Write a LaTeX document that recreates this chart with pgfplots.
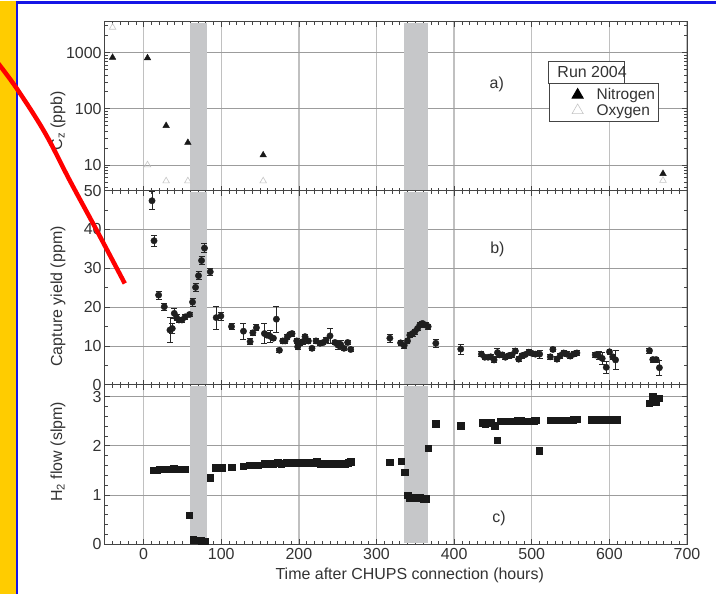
\documentclass[border=0pt]{standalone}
\usepackage{pgfplots}
\pgfplotsset{compat=1.18}
\usepackage{fontspec}
\setmainfont{Liberation Sans}
\definecolor{txt}{HTML}{333333}
\definecolor{bandc}{HTML}{C6C7C9}
\definecolor{gridv}{HTML}{C0C0C0}
\definecolor{gridh}{HTML}{9C9C9C}
\definecolor{framec}{HTML}{444444}
\definecolor{yel}{HTML}{FFCC00}
\definecolor{slideblue}{HTML}{1515E6}
\pgfplotsset{
 common/.style={
   scale only axis, width=583.3pt,
   xmin=-50, xmax=700,
   xtick={0,100,...,700},
   minor xtick={-40,-30,...,690},
   xmajorgrids, ymajorgrids,
   x grid style={gridv, line width=1.4pt},
   y grid style={gridh, line width=0.8pt},
   axis line style={framec, line width=1.1pt},
   tick style={framec, line width=0.7pt},
   major tick length=5pt, minor tick length=3pt,
   xtick pos=both, ytick pos=both,
   tick label style={font=\fontsize{16}{16}\selectfont, text=txt},
   /pgf/number format/assume math mode=true,
   yticklabel style={inner sep=1pt, xshift=-2pt},
   xticklabel style={inner sep=1pt, yshift=-3pt},
   label style={font=\fontsize{16}{18}\selectfont, text=txt},
 },
 band/.style={fill=bandc, draw=none, forget plot},
}
\begin{document}
\begin{tikzpicture}
\begin{scope}[x=1pt,y=1pt]
\path[fill=white] (0,0) rectangle (717,594);
\fill[yel] (0,0) rectangle (16,594);
\draw[slideblue, line width=2pt] (17,0) -- (17,594);
\draw[slideblue, line width=2.6pt] (16,592.7) -- (717,592.7);
\end{scope}

% ---------------- panel a ----------------
\begin{axis}[common, at={(105pt,404pt)}, anchor=south west, height=169pt,
  ymode=log, ymin=3.5, ymax=3500,
  ytick={10,100,1000}, yticklabels={10,100,1000},
  minor ytick={4,5,6,7,8,9,20,30,40,50,60,70,80,90,200,300,400,500,600,700,800,900,2000,3000},
  xticklabels=\empty,
  ylabel={C\textsubscript{z} (ppb)},
  ylabel style={at={(axis description cs:-0.0806,0.414)}, anchor=center},
  legend cell align=left,
  legend image code/.code={\path[draw=none, fill=none] (0pt,-3pt) rectangle (44pt,3pt); \draw[#1] plot coordinates {(26pt,0pt)};},
  legend style={at={(axis description cs:0.7634,0.637)}, anchor=north west,
     draw=framec, line width=0.8pt, font=\fontsize{15.5}{17}\selectfont, text=txt,
     inner xsep=2pt, inner ysep=4pt, row sep=1pt,
     nodes={inner sep=1pt}},
]
\addplot[band] coordinates {(60,3.6) (81,3.6) (81,3400) (60,3400)} -- cycle;
\addplot[band] coordinates {(335,3.6) (366,3.6) (366,3400) (335,3400)} -- cycle;
\addlegendimage{only marks, mark=triangle*, mark size=6.5pt, black}
\addlegendentry{Nitrogen}
\addlegendimage{only marks, mark=triangle, mark size=6.5pt, gray!45, mark options={line width=0.6pt}}
\addlegendentry{Oxygen}
\addplot[only marks, mark=triangle*, mark size=3.8pt, black!90, forget plot] coordinates {
 (-40,815) (5,800) (29,50) (57,25) (154,15) (669,7)};
\addplot[only marks, mark=triangle, mark size=3.8pt, gray!45, mark options={line width=0.6pt}, forget plot] coordinates {
 (-40,2800) (5,10) (29,5.2) (57,5.2) (154,5.2) (669,5.3)};
\draw[framec, line width=0.8pt, fill=white] (axis description cs:0.7617,0.636) rectangle (axis description cs:0.8927,0.765);
\node[anchor=base west, inner sep=0pt, text=txt, font=\fontsize{16}{18}\selectfont] at (axis description cs:0.7771,0.668) {Run 2004};
\node[text=txt, font=\fontsize{16}{18}\selectfont] at (axis description cs:0.6733,0.631) {a)};
\end{axis}

% ---------------- panel b ----------------
\begin{axis}[common, at={(105pt,209.5pt)}, anchor=south west, height=194.5pt,
  ymin=0, ymax=50, ytick={0,10,...,50}, minor y tick num=1,
  xticklabels=\empty,
  ylabel={Capture yield (ppm)},
  ylabel style={at={(axis description cs:-0.0806,0.455)}, anchor=center},
]
\addplot[band] coordinates {(60,0.3) (81,0.3) (81,49.7) (60,49.7)} -- cycle;
\addplot[band] coordinates {(335,0.3) (366,0.3) (366,49.7) (335,49.7)} -- cycle;
\addplot[only marks, mark=*, mark size=3.2pt, black!88,
  error bars/.cd, y dir=both, y explicit,
  error bar style={black!85, line width=0.7pt},
  error mark options={rotate=90, mark size=3pt, line width=0.7pt, black!85}]
 table[x=x, y=y, y error=e] {
x y e
10.8 47.4 2.3
13.4 37.1 1.5
19.3 23.1 1.0
26.6 20.1 1.0
33.9 14.1 3.2
36.9 14.5 1.2
39.5 18.4 1.2
42.4 17.3 0.8
45.5 16.7 0.6
49.4 16.7 0.6
53.6 17.5 0.6
59.1 18.1 0.6
63.0 21.3 1.0
66.9 25.1 1.0
70.7 28.1 1.0
74.6 32.0 1.0
78.4 35.2 1.2
85.8 29.1 1.0
93.5 17.3 3.0
99.5 17.7 1.0
113.2 15.0 0.8
128.6 13.8 2.0
137.2 11.1 0.8
140.7 13.4 0.6
145.3 14.7 0.8
155.6 13.2 2.5
158.7 12.8 0.6
162.9 12.5 1.5
167.2 12.0 0.6
171.0 16.9 3.3
174.9 8.9 0.6
179.2 11.3 0.6
182.2 11.3 0.6
185.2 12.4 0.6
188.6 13.0 0.6
191.2 13.2 0.6
197.2 11.3 0.6
198.5 9.8 0.6
201.5 10.7 0.6
205.0 11.1 0.6
207.9 12.4 0.6
212.2 11.3 0.6
216.9 9.4 0.6
222.1 11.3 0.6
227.2 10.7 0.6
231.5 10.9 0.6
234.9 11.5 0.6
240.1 12.6 2.0
246.5 10.9 0.6
250.4 10.2 1.0
253.8 10.4 1.0
258.1 9.4 0.6
262.8 10.9 0.6
266.7 9.1 0.6
317.2 12.0 1.0
331.0 10.8 0.6
335.6 10.1 0.6
339.9 11.3 0.6
342.9 12.8 0.6
346.4 13.2 0.6
349.4 13.7 0.6
352.8 14.5 0.6
355.8 15.4 0.6
359.2 15.8 0.6
363.1 15.4 0.6
366.5 15.0 0.6
376.4 10.7 1.0
408.5 9.2 1.3
435.1 7.9 0.6
439.4 7.1 0.6
443.7 7.1 0.6
447.1 7.2 0.6
451.4 6.4 0.6
455.8 8.3 1.0
458.7 7.7 0.6
462.2 7.7 0.6
466.0 7.1 0.6
470.3 7.5 0.6
474.5 7.7 0.6
478.9 8.7 0.6
483.1 6.6 0.6
487.4 7.5 0.6
491.8 7.8 0.6
496.1 8.4 0.6
500.3 8.1 0.6
504.6 7.9 0.6
510.1 7.9 1.0
523.9 7.2 0.6
527.2 9.1 0.6
532.4 6.6 0.6
536.7 7.5 0.6
541.0 8.2 0.6
545.2 7.9 0.6
549.6 7.4 0.6
553.8 7.9 0.6
558.1 8.2 0.6
581.7 7.7 0.6
586.0 7.5 1.0
590.7 6.8 1.5
595.9 4.5 1.5
600.1 8.5 0.6
604.4 7.2 0.6
607.9 6.4 2.5
651.6 8.8 0.6
655.9 6.5 0.6
660.2 6.5 0.6
664.4 4.4 2.0
};
\node[text=txt, font=\fontsize{16}{18}\selectfont] at (axis description cs:0.6743,0.700) {b)};
\end{axis}

% ---------------- panel c ----------------
\begin{axis}[common, at={(105pt,49.7pt)}, anchor=south west, height=159.8pt,
  ymin=0, ymax=3.24, ytick={0,1,2,3}, minor y tick num=4,
  ylabel={H\textsubscript{2} flow (slpm)},
  ylabel style={at={(axis description cs:-0.0806,0.58)}, anchor=center},
  xlabel={Time after CHUPS connection (hours)},
  xlabel style={at={(axis description cs:0.5237,-0.2234)}, anchor=base},
]
\addplot[band] coordinates {(60,0.02) (81,0.02) (81,3.22) (60,3.22)} -- cycle;
\addplot[band] coordinates {(335,0.02) (366,0.02) (366,3.22) (335,3.22)} -- cycle;
\addplot[only marks, mark=square*, mark size=3.2pt, black!90] table[x=x, y=y] {
x y
12.1 1.51
17.2 1.51
20.6 1.52
26.6 1.52
34.3 1.53
38.6 1.55
42.9 1.53
47.2 1.52
52.7 1.52
58.4 0.59
63.5 0.09
68.7 0.08
74.2 0.07
79.3 0.06
85.8 1.35
92.2 1.56
96.4 1.56
100.8 1.56
113.6 1.57
128.6 1.59
136.3 1.61
141.4 1.61
147.1 1.61
155.6 1.64
160.7 1.64
166.4 1.64
172.8 1.66
177.1 1.64
184.4 1.66
188.6 1.66
192.9 1.66
197.2 1.66
201.5 1.66
205.8 1.66
210.1 1.66
214.4 1.66
218.6 1.66
223.0 1.68
227.2 1.64
231.5 1.64
235.0 1.64
240.1 1.64
244.0 1.64
248.0 1.64
252.9 1.64
256.0 1.64
259.4 1.64
263.6 1.66
266.7 1.68
317.2 1.67
331.4 1.69
336.5 1.47
340.0 1.00
342.9 0.95
347.2 0.95
351.6 0.95
355.8 0.95
360.1 0.93
363.1 0.93
366.5 1.95
376.4 2.45
408.5 2.41
435.9 2.47
440.3 2.44
444.5 2.47
448.0 2.47
452.3 2.41
455.8 2.12
460.0 2.50
464.3 2.50
468.6 2.50
472.9 2.50
477.2 2.50
481.5 2.51
485.8 2.51
490.1 2.50
494.4 2.50
498.7 2.50
503.0 2.51
506.0 2.52
509.3 1.90
523.4 2.52
527.7 2.52
532.0 2.52
536.3 2.52
540.6 2.52
544.9 2.52
549.2 2.52
553.5 2.53
557.8 2.54
577.4 2.53
581.7 2.53
586.0 2.53
590.3 2.53
594.6 2.53
598.9 2.53
603.2 2.53
607.5 2.53
609.5 2.53
651.6 2.86
655.9 3.00
660.2 2.89
664.4 2.97
};
\node[text=txt, font=\fontsize{16}{18}\selectfont] at (axis description cs:0.6772,0.163) {c)};
\end{axis}

\begin{scope}[x=1pt,y=1pt]
\clip (0,0) rectangle (717,594);
\draw[red, line width=4.5pt] plot[smooth, tension=0.6] coordinates {(-3,533) (17,506) (45,462) (70,414) (97,364) (125,311)};
\end{scope}
\end{tikzpicture}
\end{document}
